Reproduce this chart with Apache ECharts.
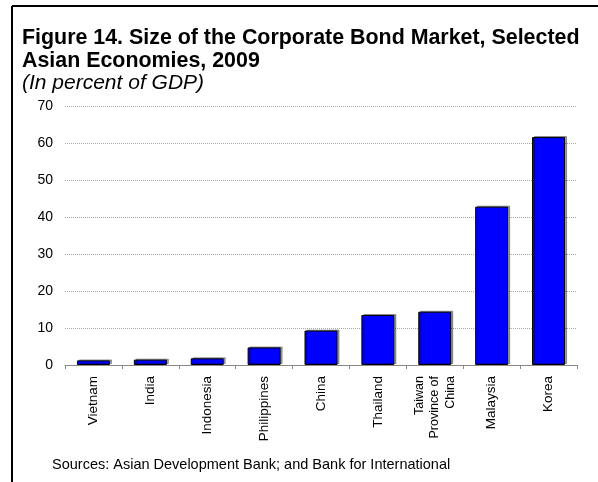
<!DOCTYPE html>
<html>
<head>
<meta charset="utf-8">
<script src="https://cdn.jsdelivr.net/npm/echarts@6/dist/echarts.min.js"></script>
<style>
html,body{margin:0;padding:0;background:#fff;}
#c{width:598px;height:482px;}
</style>
</head>
<body>
<div id="c"></div>
<script>
var categories = ['Vietnam', 'India', 'Indonesia', 'Philippines', 'China', 'Thailand', 'Taiwan\nProvince of\nChina', 'Malaysia', 'Korea'];
var values = [1.25, 1.45, 1.8, 4.75, 9.3, 13.5, 14.4, 42.8, 61.6];
var yTicks = [0, 10, 20, 30, 40, 50, 60, 70];

var chart = echarts.init(document.getElementById('c'), null, {renderer: 'canvas'});
var font = 'Liberation Sans, Arial, sans-serif';
chart.setOption({
  animation: false,
  backgroundColor: '#fff',
  title: {
    left: 17, top: 22,
    text: 'Figure 14. Size of the Corporate Bond Market, Selected\nAsian Economies, 2009',
    textStyle: {fontFamily: font, fontSize: 21.4, fontWeight: 'bold', color: '#000', lineHeight: 22.5},
    subtext: '(In percent of GDP)',
    subtextStyle: {fontFamily: font, fontSize: 21, fontStyle: 'italic', color: '#000', lineHeight: 22.5},
    itemGap: 0
  },
  grid: {left: 65, right: 21, top: 106, bottom: 117, containLabel: false},
  xAxis: {
    type: 'category',
    data: categories,
    axisLine: {lineStyle: {color: '#888', width: 1}},
    axisTick: {show: true, length: 4, lineStyle: {color: '#888'}},
    axisLabel: {
      rotate: 90, interval: 0, margin: 11, color: '#000', fontFamily: font, fontSize: 13.5,
      formatter: function (v) {
        if (v.indexOf('\n') >= 0) { return '{n|' + v + '}'; }
        return v;
      },
      rich: {n: {fontFamily: 'Liberation Sans Narrow, Arial Narrow, Liberation Sans, sans-serif', fontSize: 12.5, lineHeight: 15.5, align: 'right', color: '#000'}}
    }
  },
  yAxis: {
    type: 'value', min: yTicks[0], max: yTicks[yTicks.length - 1], interval: 10,
    axisLine: {show: false},
    axisTick: {show: false},
    axisLabel: {color: '#000', fontFamily: font, fontSize: 14, margin: 12},
    splitLine: {lineStyle: {color: '#aaa', type: [1, 1], width: 1}}
  },
  series: [{
    type: 'bar',
    data: values,
    barWidth: 33,
    itemStyle: {color: '#0000FF', borderColor: '#000', borderWidth: 1, shadowColor: 'rgba(0,0,0,0.35)', shadowOffsetX: 2, shadowOffsetY: -1, shadowBlur: 0}
  }],
  graphic: [
    {type: 'line', shape: {x1: 12, y1: 6, x2: 598, y2: 6}, style: {stroke: '#000', lineWidth: 2}},
    {type: 'line', shape: {x1: 12, y1: 6, x2: 12, y2: 482}, style: {stroke: '#000', lineWidth: 2}},
    {type: 'text', left: 52, top: 457, style: {text: 'Sources: Asian Development Bank; and Bank for International', font: '14.5px ' + font, fill: '#000'}}
  ]
});
</script>
</body>
</html>
